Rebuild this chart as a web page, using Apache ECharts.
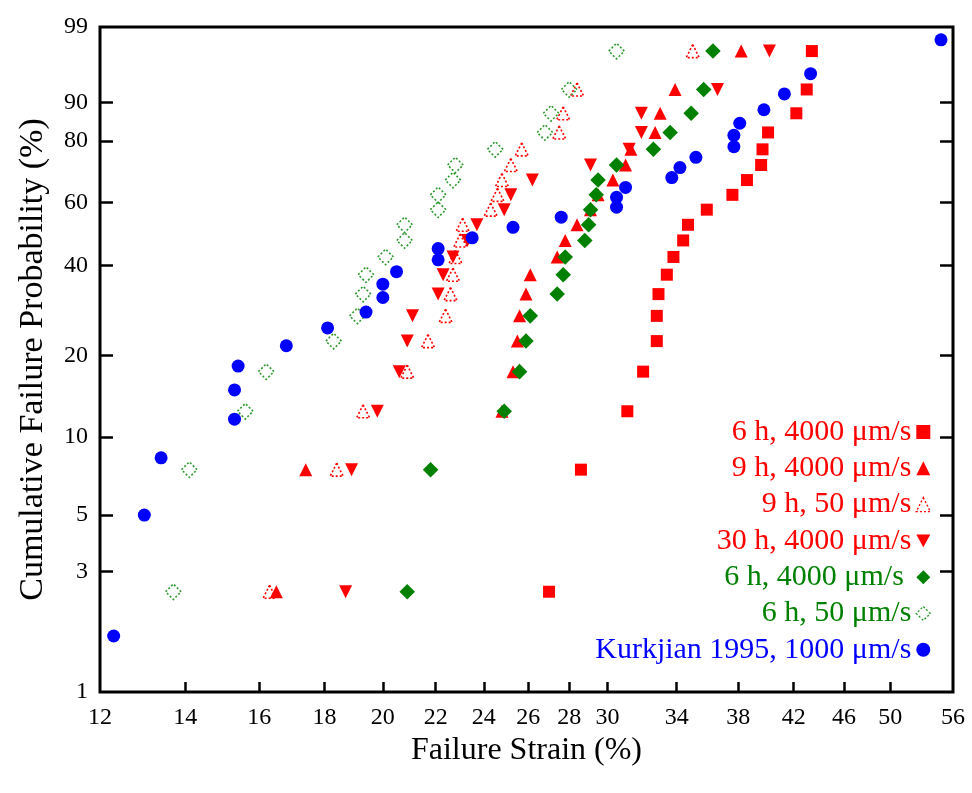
<!DOCTYPE html>
<html><head><meta charset="utf-8">
<script src="https://cdn.jsdelivr.net/npm/echarts@6/dist/echarts.min.js"></script>
<style>html,body{margin:0;padding:0;background:#fff}#c{width:972px;height:793px}</style>
</head><body><div id="c"></div>
<script>
// ---- data (strain in %, cumulative failure probability in %) ----
const strainTicks = [12,14,16,18,20,22,24,26,28,30,34,38,42,46,50,56];
const probTicks = [1,3,5,10,20,40,60,80,90,99];

const prob20 = [2.5,7.5,12.5,17.5,22.5,27.5,32.5,37.5,42.5,47.5,52.5,57.5,62.5,67.5,72.5,77.5,82.5,87.5,92.5,97.5];
const prob30 = [1.67,5,8.33,11.67,15,18.33,21.67,25,28.33,31.67,35,38.33,41.67,45,48.33,51.67,55,58.33,61.67,65,68.33,71.67,75,78.33,81.67,85,88.33,91.67,95,98.33];

const strain6h4000 = [27.0,28.6,31.1,32.0,32.8,32.8,32.9,33.4,33.8,34.4,34.7,35.9,37.6,38.6,39.6,39.7,40.1,42.2,43.0,43.4];
const strain9h4000 = [16.5,17.4,24.8,25.3,25.5,25.6,25.9,26.1,27.4,27.8,28.4,29.1,29.5,30.3,31.0,31.3,32.7,33.0,33.9,38.2];
const strain9h50   = [16.3,18.4,19.3,20.9,21.7,22.4,22.6,22.7,22.8,23.0,23.1,24.3,24.6,24.8,25.2,25.7,27.5,27.7,28.4,35.0];
const strain30h4000= [18.7,18.9,19.8,20.6,20.9,21.1,22.1,22.3,22.7,23.3,23.7,24.9,25.2,26.2,29.1,31.2,31.9,31.9,36.6,40.2];
const strainG6h4000= [20.9,21.8,24.9,25.6,25.9,26.1,27.4,27.7,27.8,28.8,29.0,29.1,29.4,29.5,30.5,32.6,33.6,34.9,35.7,36.3];
const strainG6h50  = [13.7,14.1,15.6,16.2,18.3,19.1,19.3,19.4,20.1,20.8,20.8,22.1,22.1,22.7,22.8,24.5,26.8,27.1,28.0,30.5];
const strainKurk   = [12.3,13.0,13.4,15.3,15.3,15.4,16.8,18.1,19.4,20.0,20.0,20.5,22.1,22.1,23.5,25.3,27.6,30.5,30.5,31.0,33.7,34.2,35.2,37.7,37.7,38.1,39.8,41.3,43.3,54.8];

const names = ['6 h, 4000 μm/s','9 h, 4000 μm/s','9 h, 50 μm/s','30 h, 4000 μm/s','6 h, 4000 μm/s ','6 h, 50 μm/s','Kurkjian 1995, 1000 μm/s'];

// ---- Weibull probability scales ----
const toX = s => Math.log(s);
const toY = p => Math.log(-Math.log(1 - p / 100));
const pts = (xs, ps) => xs.map((s, i) => [toX(s), toY(ps[i])]);

const RED = '#ff0000', GREEN = '#008000', LGREEN = '#2e9a2e', BLUE = '#0000ff';
const FONT = '"Liberation Serif","Times New Roman","DejaVu Serif",serif';
const DOWN = 'path://M0,0 L10,0 L5,9 Z';
const DIAM = 'path://M5,0 L10,5 L5,10 L0,5 Z';

const chart = echarts.init(document.getElementById('c'), null, {renderer: 'canvas'});

function filled(name, data, symbol, size, color, rot) {
  return {type: 'scatter', name, data, symbol, symbolSize: size, symbolRotate: rot || 0,
    itemStyle: {color, opacity: 1}, emphasis: {disabled: true}};
}
function open(name, data, symbol, size, color, rot) {
  return {type: 'scatter', name, data, symbol, symbolSize: size, symbolRotate: rot || 0,
    itemStyle: {color: 'rgba(255,255,255,0)', borderColor: color, borderWidth: 1.6, borderType: [2, 2], opacity: 1},
    emphasis: {disabled: true}};
}
const openIcon = c => ({color: 'rgba(255,255,255,0)', borderColor: c, borderWidth: 1.4, borderType: [2, 2], opacity: 1});

const option = {
  animation: false,
  backgroundColor: '#fff',
  grid: {left: 100, right: 19, top: 27, bottom: 101, show: true, borderColor: '#000', borderWidth: 3},
  xAxis: [{
    type: 'value', min: toX(12), max: toX(56),
    axisLine: {show: false, onZero: false}, splitLine: {show: false},
    axisTick: {show: true, inside: true, length: 10, customValues: strainTicks.slice(1, -1).map(toX),
      lineStyle: {color: '#000', width: 2.5}},
    axisLabel: {customValues: strainTicks.map(toX), formatter: v => String(Math.round(Math.exp(v))),
      fontFamily: FONT, fontSize: 24, color: '#000', margin: 14},
    name: 'Failure Strain (%)', nameLocation: 'middle', nameGap: 33,
    nameTextStyle: {fontFamily: FONT, fontSize: 32, color: '#000'}
  }],
  yAxis: [{
    type: 'value', min: toY(1), max: toY(99),
    axisLine: {show: false, onZero: false}, splitLine: {show: false},
    axisTick: {show: true, inside: true, length: 13, customValues: probTicks.slice(1, -1).map(toY),
      lineStyle: {color: '#000', width: 2.5}},
    axisLabel: {customValues: probTicks.map(toY),
      formatter: v => String(Math.round(100 * (1 - Math.exp(-Math.exp(v))))),
      fontFamily: FONT, fontSize: 24, color: '#000', margin: 12},
    name: 'Cumulative Failure Probability (%)', nameLocation: 'middle', nameRotate: 90, nameGap: 50,
    nameTextStyle: {fontFamily: FONT, fontSize: 34, color: '#000'}
  }, {
    type: 'value', position: 'right', min: toY(1), max: toY(99),
    axisLine: {show: false, onZero: false}, splitLine: {show: false},
    axisTick: {show: true, inside: true, length: 13, customValues: probTicks.slice(1, -1).map(toY),
      lineStyle: {color: '#000', width: 2.5}},
    axisLabel: {show: false}
  }],
  legend: {
    orient: 'vertical', right: 36, top: 412, align: 'right', itemGap: 6.3,
    itemWidth: 14, itemHeight: 14, selectedMode: false,
    textStyle: {fontFamily: FONT, fontSize: 30, lineHeight: 30},
    data: [
      {name: names[0], textStyle: {color: RED}},
      {name: names[1], textStyle: {color: RED}},
      {name: names[2], textStyle: {color: RED}, itemStyle: openIcon(RED)},
      {name: names[3], textStyle: {color: RED}, icon: DOWN},
      {name: names[4], textStyle: {color: GREEN}, icon: DIAM},
      {name: names[5], textStyle: {color: GREEN}, icon: DIAM, itemStyle: openIcon(LGREEN)},
      {name: names[6], textStyle: {color: BLUE}}
    ]
  },
  series: [
    filled(names[0], pts(strain6h4000, prob20), 'rect', 12, RED),
    filled(names[1], pts(strain9h4000, prob20), 'triangle', 13, RED),
    open(names[2], pts(strain9h50, prob20), 'triangle', 13, RED),
    filled(names[3], pts(strain30h4000, prob20), 'triangle', 13, RED, 180),
    filled(names[4], pts(strainG6h4000, prob20), 'rect', 11, GREEN, 45),
    open(names[5], pts(strainG6h50, prob20), 'rect', 11, LGREEN, 45),
    filled(names[6], pts(strainKurk, prob30), 'circle', 13, BLUE)
  ]
};
chart.setOption(option);
</script></body></html>
